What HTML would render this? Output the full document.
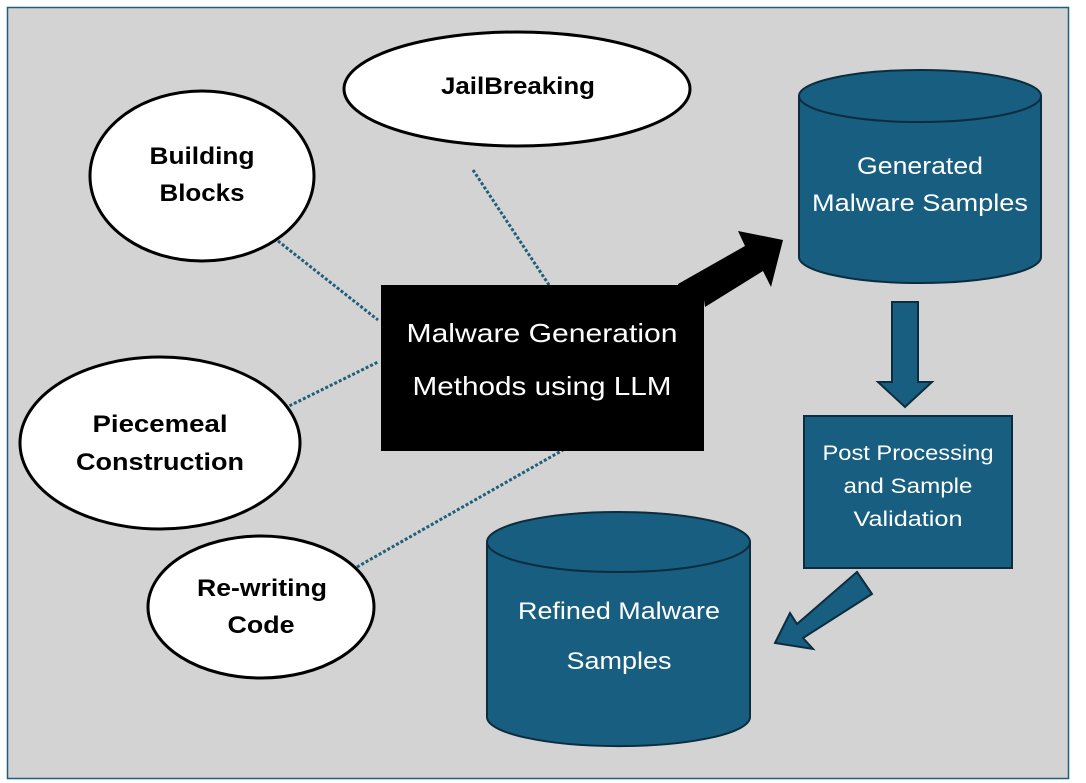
<!DOCTYPE html>
<html><head><meta charset="utf-8"><style>
html,body{margin:0;padding:0;background:#fff;}
svg{display:block;}
text{font-family:"Liberation Sans",sans-serif;}
</style></head><body>
<svg width="1086" height="783" viewBox="0 0 1086 783" xmlns="http://www.w3.org/2000/svg">
<rect x="0" y="0" width="1086" height="783" fill="#fff"/>
<rect x="7.5" y="7.5" width="1061" height="771" fill="#d3d3d3" stroke="#1f5f7a" stroke-width="1.5"/>
<g stroke="#1f5f7a" stroke-width="3" stroke-dasharray="3,2" fill="none">
<line x1="473" y1="170" x2="549" y2="285"/>
<line x1="278" y1="241" x2="378" y2="320"/>
<line x1="285" y1="408" x2="378" y2="362"/>
<line x1="357" y1="567" x2="563" y2="450"/>
</g>
<g fill="#fff" stroke="#000" stroke-width="3">
<ellipse cx="517" cy="89" rx="173" ry="57"/>
<ellipse cx="202" cy="176" rx="112" ry="85"/>
<ellipse cx="160" cy="443" rx="140" ry="86"/>
<ellipse cx="261" cy="607" rx="113" ry="71"/>
</g>
<g font-weight="bold" font-size="24" text-anchor="middle" fill="#000" lengthAdjust="spacingAndGlyphs">
<text x="518" y="94" textLength="154" lengthAdjust="spacingAndGlyphs">JailBreaking</text>
<text x="202" y="164" textLength="105" lengthAdjust="spacingAndGlyphs">Building</text>
<text x="202" y="201" textLength="85" lengthAdjust="spacingAndGlyphs">Blocks</text>
<text x="160" y="432" textLength="135" lengthAdjust="spacingAndGlyphs">Piecemeal</text>
<text x="160" y="470" textLength="168" lengthAdjust="spacingAndGlyphs">Construction</text>
<text x="262" y="596" textLength="130" lengthAdjust="spacingAndGlyphs">Re-writing</text>
<text x="261" y="633" textLength="67" lengthAdjust="spacingAndGlyphs">Code</text>
</g>
<rect x="381" y="285" width="323" height="166" fill="#000"/>
<text x="542" y="342" font-size="26" fill="#fff" text-anchor="middle" textLength="271" lengthAdjust="spacingAndGlyphs">Malware Generation</text>
<text x="542" y="395" font-size="26" fill="#fff" text-anchor="middle" textLength="259" lengthAdjust="spacingAndGlyphs">Methods using LLM</text>
<polygon points="678,284 745,246 738,231 783,240 771,287 763,271 705,307 704,300 678,300" fill="#000"/>
<g fill="#175e80" stroke="#0c2d3e" stroke-width="2">
<path d="M799,96 L799,257 A121,26 0 0 0 1041,257 L1041,96"/>
<ellipse cx="920" cy="96" rx="121" ry="26"/>
</g>
<text x="920" y="174" font-size="24" fill="#fff" text-anchor="middle" textLength="126" lengthAdjust="spacingAndGlyphs">Generated</text>
<text x="920" y="211" font-size="24" fill="#fff" text-anchor="middle" textLength="216" lengthAdjust="spacingAndGlyphs">Malware Samples</text>
<polygon points="892,302 918,302 918,382 932,382 905,407 878,382 892,382" fill="#175e80" stroke="#0c2d3e" stroke-width="2"/>
<rect x="804" y="416" width="208" height="152" fill="#175e80" stroke="#0c2d3e" stroke-width="2"/>
<g font-size="21" fill="#fff" text-anchor="middle">
<text x="908" y="460" textLength="171" lengthAdjust="spacingAndGlyphs">Post Processing</text>
<text x="908" y="493" textLength="129" lengthAdjust="spacingAndGlyphs">and Sample</text>
<text x="908" y="526" textLength="109" lengthAdjust="spacingAndGlyphs">Validation</text>
</g>
<polygon points="857,572 872,594 803,638 813,649 775,643 790,613 797,624" fill="#175e80" stroke="#0c2d3e" stroke-width="2"/>
<g fill="#175e80" stroke="#0c2d3e" stroke-width="2">
<path d="M487,542 L487,717 A131,29 0 0 0 750,717 L750,542"/>
<ellipse cx="618.5" cy="542" rx="131.5" ry="30"/>
</g>
<text x="619" y="619" font-size="24" fill="#fff" text-anchor="middle" textLength="202" lengthAdjust="spacingAndGlyphs">Refined Malware</text>
<text x="619" y="669" font-size="24" fill="#fff" text-anchor="middle" textLength="105" lengthAdjust="spacingAndGlyphs">Samples</text>
</svg>
</body></html>
